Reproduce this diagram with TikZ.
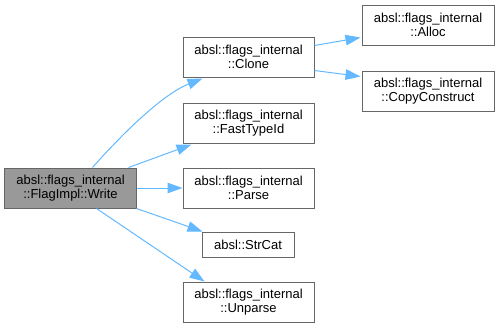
\documentclass[tikz,border=0pt]{standalone}
\usepackage{fontspec}
\setmainfont{Liberation Sans}
\usetikzlibrary{arrows.meta,calc}
\definecolor{edgeblue}{HTML}{63B8FF}
\definecolor{boxgrey}{HTML}{666666}
\definecolor{curfill}{HTML}{999999}
\tikzset{
  fn/.style={draw=boxgrey, fill=white, line width=1bp, inner sep=0pt,
    minimum width=131bp, minimum height=40bp, align=center,
    font=\fontsize{13bp}{14bp}\selectfont, text=black},
  cur/.style={fn, fill=curfill},
  call/.style={draw=edgeblue, line width=1bp,
    -{Triangle[length=15bp,width=10.5bp]}},
}
\begin{document}
\begin{tikzpicture}[x=1bp,y=-1bp]
\useasboundingbox (0,0) rectangle (498,329);

% functions
\node[cur] (write) at (70.5,188) {absl::flags\_internal\\::FlagImpl::Write};
\node[fn] (clone) at (248.5,57) {absl::flags\_internal\\::Clone};
\node[fn] (fasttypeid) at (248.5,123) {absl::flags\_internal\\::FastTypeId};
\node[fn] (parse) at (248.5,188) {absl::flags\_internal\\::Parse};
\node[fn, minimum width=92bp, minimum height=25bp] (strcat) at (248,244.5) {absl::StrCat};
\node[fn] (unparse) at (248.5,302) {absl::flags\_internal\\::Unparse};
\node[fn, minimum width=132bp] (alloc) at (428,25) {absl::flags\_internal\\::Alloc};
\node[fn, minimum width=132bp] (copyconstruct) at (428,91) {absl::flags\_internal\\::CopyConstruct};

% calls
\draw[call] ($(write.north west)+(88,0)$)
  .. controls ($(write.north west)+(110,-25)$) and ($(clone.south west)+(-23,18)$)
  .. ($(clone.south west)+(20,1)$);
\draw[call] ($(write.north east)+(-8,0)$) -- ($(fasttypeid.south west)+(9,1)$);
\draw[call] (write.east) -- (parse.west);
\draw[call] (write.south east) -- ($(strcat.north west)+(1,0)$);
\draw[call] ($(write.south west)+(92,0)$) -- ($(unparse.north west)+(22,0)$);
\draw[call] ($(clone.north east)+(0,9)$) -- ($(alloc.south west)+(-1,-8)$);
\draw[call] ($(clone.south east)+(0,-7)$) -- ($(copyconstruct.north west)+(-1,6)$);
\end{tikzpicture}
\end{document}
